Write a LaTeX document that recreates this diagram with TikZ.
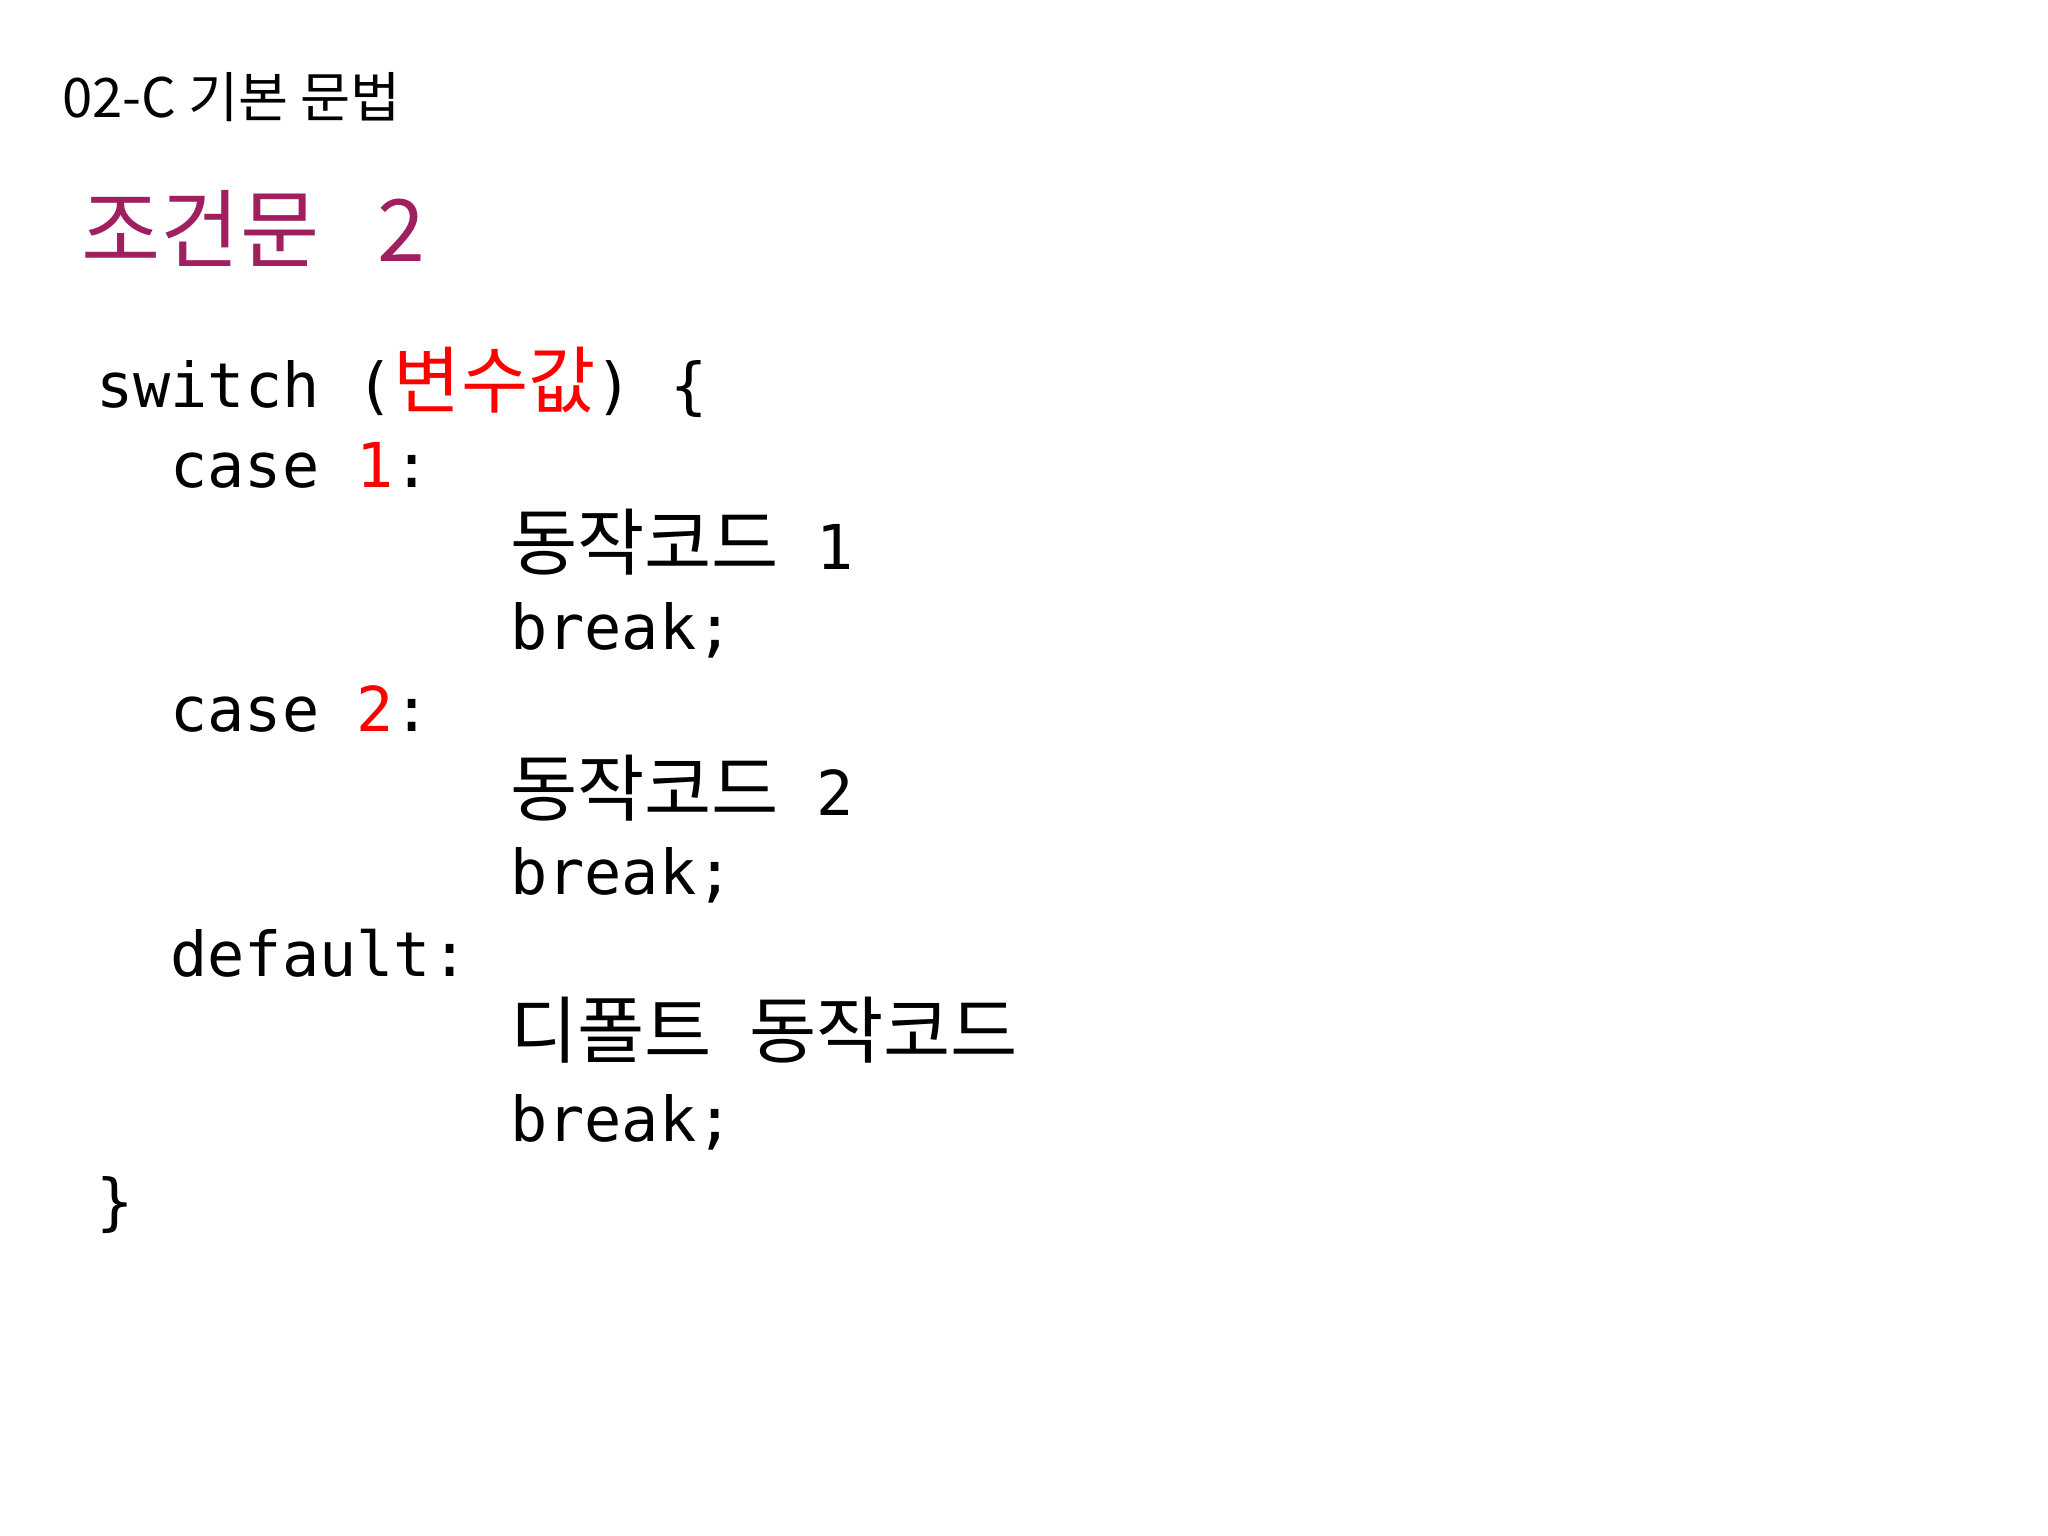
\documentclass[tikz,border=0pt]{standalone}
\usepackage{fontspec}
\setmainfont{Noto Sans CJK KR}
\newfontfamily\kr{Noto Sans CJK KR}
\newfontfamily\mono{DejaVu Sans Mono}
\definecolor{titlec}{HTML}{A0205F}
\newcommand{\K}[1]{{\kr\fontsize{20.8}{22}\selectfont #1}}
\tikzset{code/.style={anchor=base west,inner sep=0pt,font=\mono\fontsize{17.6}{20}\selectfont},
x=0.013061cm,y=-0.013061cm}
\begin{document}
\begin{tikzpicture}
\useasboundingbox (0,0) rectangle (1568,1176);
\node[anchor=base west,inner sep=0pt,font=\kr\fontsize{15.5}{17}\selectfont] (hdr) at (47,90) {02-C 기본 문법};
\node[anchor=base west,inner sep=0pt,font=\kr\fontsize{24.5}{27}\selectfont,text=titlec] (ttl) at (62,200) {조건문\ \ \ 2};
\node[code] (l1) at (73,312) {switch (\textcolor{red}{\K{변수값}}) \{};
\node[code] (l2) at (130,373) {case \textcolor{red}{1}:};
\node[code] (l3) at (390,436) {\K{동작코드} 1};
\node[code] (l4) at (390,497) {break;};
\node[code] (l5) at (130,560) {case \textcolor{red}{2}:};
\node[code] (l6) at (390,624) {\K{동작코드} 2};
\node[code] (l7) at (390,685) {break;};
\node[code] (l8) at (130,748) {default:};
\node[code] (l9) at (390,810) {\K{디폴트} \K{동작코드}};
\node[code] (l10) at (390,874) {break;};
\node[code] (l11) at (73,937) {\}};
\end{tikzpicture}
\end{document}
